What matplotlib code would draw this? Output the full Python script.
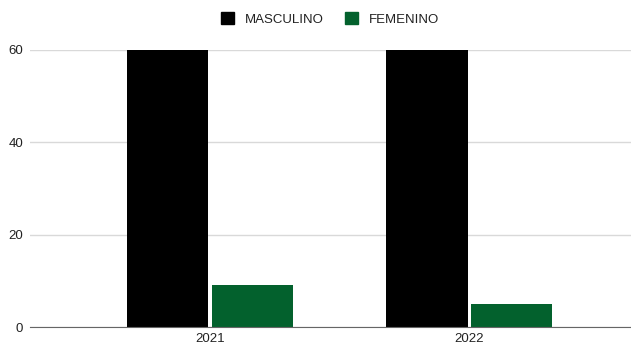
import numpy as np
import matplotlib.pyplot as plt
from matplotlib.patches import Patch

plt.rcParams['font.family'] = ['Liberation Sans', 'DejaVu Sans']

# datos
years = ['2021', '2022']
masculino = [60, 60]
femenino = [9, 5]
series_names = ['MASCULINO', 'FEMENINO']
colors = ['#000000', '#03612d']

fig = plt.figure(figsize=(6.31, 3.47), dpi=100)
ax = fig.add_axes([30/631, 20/347, 1 - 30/631, (327-50)/347])

x = np.arange(len(years))
w = 0.313
ax.bar(x - w/2 - 0.006, masculino, w, color=colors[0], zorder=3)
ax.bar(x + w/2 + 0.006, femenino, w, color=colors[1], zorder=3)

ax.set_xlim(-0.695, 1.625)
ax.set_ylim(0, 60)
ax.set_yticks([0, 20, 40, 60])
ax.set_xticks(x)
ax.set_xticklabels(years)
ax.yaxis.grid(True, color='#d9d9d9', linewidth=1, zorder=0)
ax.set_axisbelow(True)
for s in ['top', 'right', 'left']:
    ax.spines[s].set_visible(False)
ax.spines['bottom'].set_color('#666666')
ax.spines['bottom'].set_zorder(4)
ax.tick_params(axis='both', length=0, labelsize=9.5, colors='#222222')
ax.tick_params(axis='y', pad=5)
ax.tick_params(axis='x', pad=4)

handles = [Patch(color=c) for c in colors]
fig.legend(handles, series_names, loc='center', bbox_to_anchor=(330/631, 1 - 19/347),
           ncol=2, frameon=False, fontsize=9.5, handlelength=1.0, handleheight=1.0,
           handletextpad=0.8, columnspacing=1.6, labelcolor='#222222')

fig.savefig('out.png', dpi=100)
